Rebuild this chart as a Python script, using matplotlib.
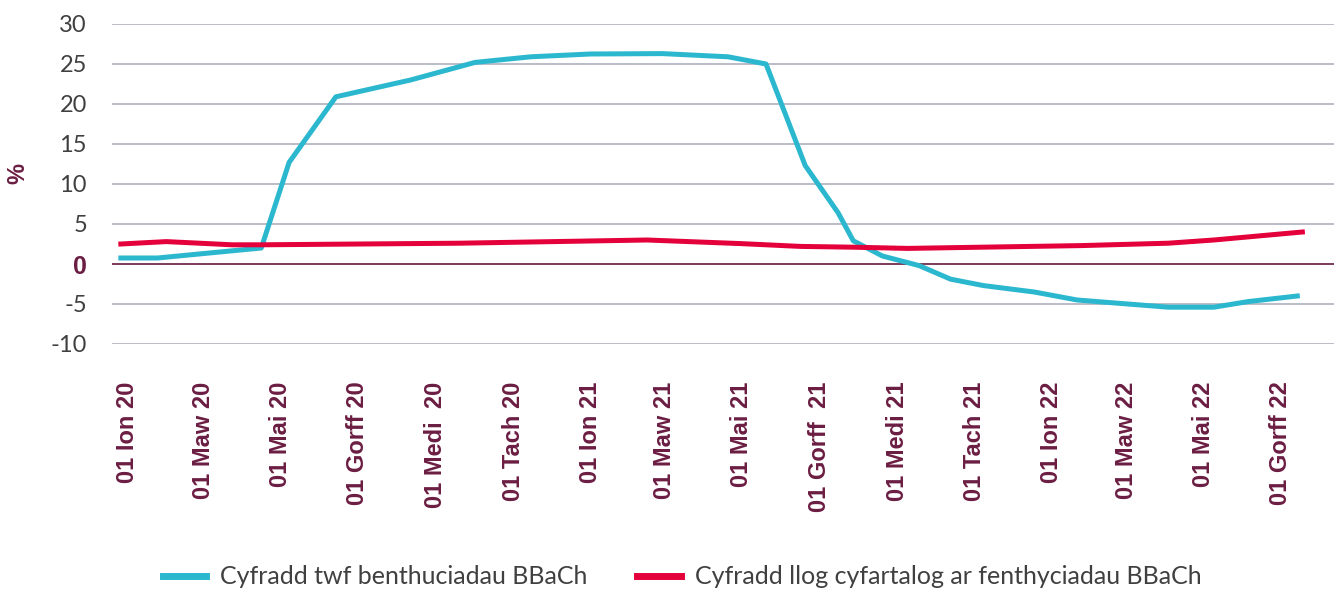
import matplotlib
matplotlib.use("Agg")
import matplotlib.pyplot as plt
import pandas as pd

# SME lending growth rate (%)
growth_dates = ["2019-12-27", "2020-01-25", "2020-04-16", "2020-05-08", "2020-06-14",
                "2020-08-12", "2020-10-02", "2020-11-15", "2021-01-01", "2021-02-27",
                "2021-04-20", "2021-05-20", "2021-06-20", "2021-07-16", "2021-07-28",
                "2021-08-20", "2021-09-18", "2021-10-13", "2021-11-08", "2021-12-18",
                "2022-01-21", "2022-02-22", "2022-04-03", "2022-05-09", "2022-06-05",
                "2022-07-14"]
growth = [0.75, 0.75, 2.0, 12.7, 20.9,
          23.0, 25.2, 25.9, 26.25, 26.3,
          25.9, 25.0, 12.3, 6.4, 2.9,
          1.0, -0.2, -1.9, -2.7, -3.5,
          -4.5, -4.9, -5.4, -5.4, -4.7,
          -4.0]

# average interest rate on SME loans (%)
rate_dates = ["2019-12-27", "2020-02-01", "2020-03-24", "2020-04-16", "2020-09-20",
              "2021-02-15", "2021-04-30", "2021-06-16", "2021-07-28", "2021-09-09",
              "2021-11-06", "2022-01-24", "2022-04-03", "2022-05-09", "2022-07-18"]
rate = [2.5, 2.8, 2.4, 2.4, 2.6,
        3.0, 2.55, 2.2, 2.1, 1.95,
        2.1, 2.3, 2.6, 3.0, 4.0]

tick_dates = pd.date_range("2020-01-01", "2022-07-01", freq="2MS")
tick_labels = ["01 Ion 20", "01 Maw 20", "01 Mai 20", "01 Gorff 20", "01 Medi  20",
               "01 Tach 20", "01 Ion 21", "01 Maw 21", "01 Mai 21", "01 Gorff  21",
               "01 Medi 21", "01 Tach 21", "01 Ion 22", "01 Maw 22", "01 Mai 22",
               "01 Gorff 22"]

label1 = "Cyfradd twf benthuciadau BBaCh"
label2 = "Cyfradd llog cyfartalog ar fenthyciadau BBaCh"

maroon = "#6b1d42"
grey_text = "#404040"
bold_font = ["Liberation Sans", "DejaVu Sans"]

plt.rcParams["font.family"] = ["Lato", "DejaVu Sans"]
plt.rcParams["axes.unicode_minus"] = False

fig = plt.figure(figsize=(13.34, 5.90), dpi=100)
ax = fig.add_axes([112 / 1334, 1 - 344 / 590, 1 - 112 / 1334, 320 / 590])

ax.plot(pd.to_datetime(growth_dates), growth, color="#2bb8cf", lw=3.6, label=label1, zorder=3)
ax.plot(pd.to_datetime(rate_dates), rate, color="#e4003b", lw=3.6, label=label2, zorder=3)

ax.set_ylim(-10, 30)
ax.set_yticks(range(-10, 31, 5))
ax.set_xlim(pd.Timestamp("2019-12-20"), pd.Timestamp("2022-08-12"))
ax.set_xticks(tick_dates)
ax.set_xticklabels(tick_labels, rotation=90, fontsize=17, fontweight="bold",
                   family=bold_font, color=maroon, va="top", ha="center")

ax.grid(axis="y", color="#a7abb9", lw=1.1)
ax.axhline(0, color="#7a3355", lw=1.3, zorder=2)
ax.set_axisbelow(True)
for s in ax.spines.values():
    s.set_visible(False)

ax.tick_params(axis="x", length=0, pad=27)
ax.tick_params(axis="y", length=0, pad=18, labelsize=17, labelcolor=grey_text)
for t in ax.get_yticklabels():
    if t.get_text() == "0":
        t.set_color(maroon)
        t.set_fontweight("bold")
        t.set_family(bold_font)
        t.set_fontsize(18)

fig.text(18 / 1334, 1 - 174 / 590, "%", rotation=90, color=maroon, fontsize=17,
         fontweight="bold", family=bold_font, ha="center", va="center")

leg = fig.legend(loc="center", bbox_to_anchor=(682 / 1334, 1 - 577 / 590), ncol=2,
                 frameon=False, fontsize=18, handlelength=1.75, handletextpad=0.55,
                 columnspacing=2.0, labelcolor=grey_text)
for h in leg.get_lines():
    h.set_linewidth(5)

fig.savefig("out.png", dpi=100)
